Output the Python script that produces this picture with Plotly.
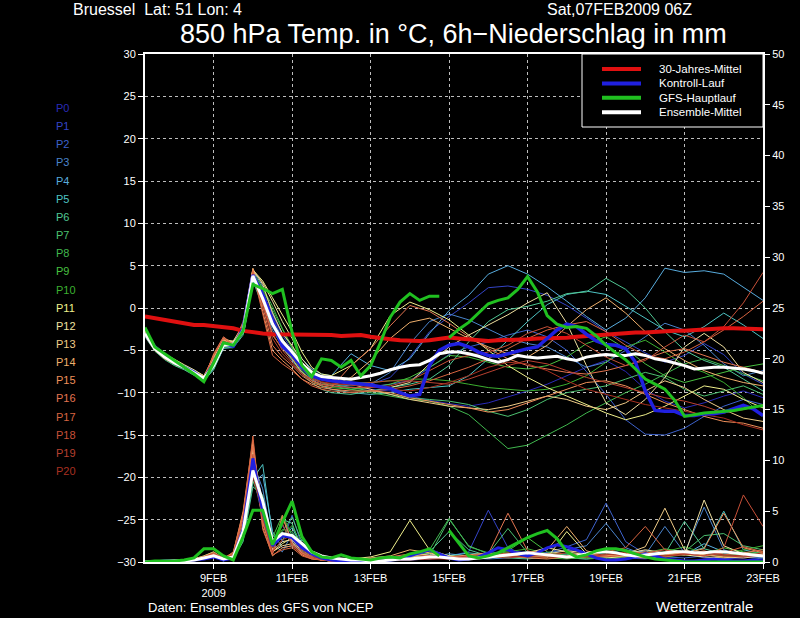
import pandas as pd
import plotly.graph_objects as go

# time axes (6h for the main lines, 6h/12h for the members)
t6 = pd.date_range("2009-02-07 06:00", "2009-02-23 00:00", freq="6h")
t_gfs_hi = pd.date_range("2009-02-07 06:00", "2009-02-14 18:00", freq="6h")
t_gfs_lo = pd.date_range("2009-02-15 00:00", "2009-02-23 00:00", freq="6h")
t_ens = pd.date_range("2009-02-07 06:00", "2009-02-12 00:00", freq="6h").append(
    pd.date_range("2009-02-12 12:00", "2009-02-23 00:00", freq="12h"))

tick_dates = ["2009-02-09", "2009-02-11", "2009-02-13", "2009-02-15",
              "2009-02-17", "2009-02-19", "2009-02-21", "2009-02-23"]
tick_text = ["9FEB<br>2009", "11FEB", "13FEB", "15FEB", "17FEB", "19FEB", "21FEB", "23FEB"]

# 850 hPa temperature, degC
clim_t = [-1.0, -1.2, -1.5, -1.7, -1.9, -2.0, -2.0, -2.1, -2.2, -2.4, -2.7, -2.9,
          -3.0, -3.1, -3.1, -3.1, -3.1, -3.2, -3.2, -3.2, -3.3, -3.2, -3.2, -3.4,
          -3.6, -3.7, -3.8, -3.9, -3.9, -3.8, -3.7, -3.5, -3.6, -3.7, -3.9, -3.9,
          -3.8, -3.8, -3.8, -3.7, -3.6, -3.6, -3.5, -3.5, -3.4, -3.3, -3.2, -3.2,
          -3.1, -3.0, -2.9, -2.9, -2.8, -2.8, -2.7, -2.7, -2.6, -2.6, -2.5, -2.4,
          -2.4, -2.4, -2.5, -2.5]
ctrl_t = [-3.0, -4.6, -5.6, -6.4, -7.0, -7.6, -8.4, -6.6, -4.2, -4.5, -2.5, 3.9,
          1.5, -1.5, -4.5, -5.5, -7.0, -8.0, -8.4, -8.6, -8.7, -8.8, -9.0, -9.1,
          -9.3, -9.5, -10.0, -10.4, -10.2, -6.8, -5.0, -4.4, -4.2, -4.6, -5.2, -5.6,
          -5.7, -5.4, -5.0, -4.8, -4.6, -3.6, -2.6, -1.9, -2.2, -3.1, -3.9, -4.3,
          -4.4, -4.8, -6.4, -9.8, -12.1, -12.2, -12.2, -12.7, -12.7, -12.5, -12.5, -12.3,
          -11.9, -11.5, -11.9, -12.7]
mean_t = [-3.0, -4.8, -5.8, -6.5, -7.0, -7.6, -8.3, -6.8, -4.4, -4.3, -2.7, 3.8,
          1.1, -1.9, -3.9, -5.2, -6.6, -7.6, -8.1, -8.2, -8.3, -8.4, -8.2, -8.0,
          -7.7, -7.3, -7.0, -6.8, -6.7, -6.2, -5.4, -5.2, -5.2, -5.4, -5.7, -6.1,
          -6.4, -6.1, -5.6, -5.8, -5.9, -5.8, -5.7, -6.0, -6.2, -5.8, -5.6, -5.5,
          -5.6, -5.6, -5.4, -5.6, -6.0, -6.2, -6.5, -6.8, -7.2, -7.1, -7.0, -7.0,
          -7.1, -7.2, -7.4, -7.7]
gfs_hi_t = [-2.3, -4.6, -5.4, -6.2, -6.9, -7.8, -8.7, -6.5, -4.1, -4.4, -2.7, 2.8,
            2.3, 1.7, 2.2, -2.9, -6.8, -8.1, -6.0, -6.2, -7.0, -6.2, -8.0, -6.8,
            -4.1, -1.1, 0.7, 1.7, 0.9, 1.4, 1.4]
gfs_lo_t = [-3.5, -2.5, -1.7, -0.6, 0.5, 0.9, 1.2, 2.2, 3.7, 1.9, -0.9, -1.9, -2.3,
            -2.2, -2.4, -3.3, -4.4, -5.3, -6.1, -7.2, -8.4, -9.0, -9.6, -10.9, -12.8,
            -12.6, -12.4, -12.3, -12.2, -12.1, -11.9, -11.7, -11.5]

# 6h precipitation, mm
ctrl_rr = [0.0, 0.0, 0.1, 0.1, 0.1, 0.2, 0.3, 0.5, 0.2, 0.4, 3.2, 10.2,
           5.0, 1.6, 2.6, 2.4, 1.4, 0.8, 0.4, 0.2, 0.1, 0.1, 0.0, 0.0,
           0.1, 0.2, 0.4, 0.6, 0.9, 1.2, 0.8, 0.4, 0.2, 0.3, 0.5, 0.9,
           1.4, 1.2, 0.8, 0.6, 0.9, 1.4, 1.7, 1.5, 1.2, 0.8, 0.4, 0.2,
           0.2, 0.3, 0.5, 0.8, 0.6, 0.3, 0.2, 0.1, 0.1, 0.2, 0.3, 0.2,
           0.1, 0.1, 0.2, 0.1]
mean_rr = [0.0, 0.05, 0.1, 0.1, 0.1, 0.2, 0.4, 0.6, 0.3, 0.5, 3.0, 9.0,
           6.0, 2.0, 2.8, 2.6, 1.8, 1.0, 0.6, 0.4, 0.3, 0.2, 0.2, 0.1,
           0.1, 0.2, 0.3, 0.3, 0.4, 0.5, 0.5, 0.4, 0.3, 0.3, 0.4, 0.5,
           0.6, 0.7, 0.8, 0.9, 0.8, 0.7, 0.6, 0.5, 0.6, 0.8, 1.0, 1.0,
           0.9, 0.7, 0.6, 0.7, 0.8, 0.9, 1.0, 1.0, 0.9, 0.9, 1.0, 1.0,
           0.9, 0.8, 0.7, 0.6]
gfs_hi_rr = [0.0, 0.1, 0.1, 0.1, 0.2, 0.4, 1.3, 1.3, 0.6, 0.2, 2.5, 5.1,
             5.1, 1.7, 3.9, 6.0, 2.5, 1.0, 0.5, 0.4, 0.7, 0.4, 0.3, 0.2,
             0.4, 0.5, 0.4, 0.8, 1.0, 1.3, 0.6]
gfs_lo_rr = [3.1, 1.8, 0.6, 0.4, 0.6, 0.9, 1.4, 1.9, 2.4, 2.8, 3.1, 2.3, 1.0,
             0.5, 0.7, 1.1, 1.3, 1.3, 1.1, 0.8, 0.5, 0.3, 0.2, 0.1, 0.0,
             0.0, 0.0, 0.0, 0.0, 0.0, 0.0, 0.0, 0.0]

# ensemble members P0..P20: temperature
p0_t = [-3.2, -4.9, -5.9, -6.6, -7.1, -7.7, -8.4, -7.0, -4.6, -4.5, -2.9, 3.6, 1.5, -1.0, -3.6, -5.6, -7.4, -8.6, -9.0, -9.2,
        -9.4, -9.6, -9.8, -10.4, -10.9, -11.3, -11.6, -11.2, -10.5, -9.8, -9.0, -8.0, -7.0, -6.2, -7.5, -9.6, -11.0, -11.8, -11.2, -10.4, -9.8, -10.6]
p1_t = [-3.1, -4.7, -5.7, -6.4, -6.9, -7.5, -8.2, -6.9, -4.3, -4.2, -2.5, 4.2, 2.0, -0.8, -3.2, -5.0, -6.8, -7.8, -8.4, -8.6,
        -8.8, -9.0, -8.2, -5.8, -2.8, -1.0, 0.6, 2.4, 2.6, 2.2, 1.5, 0.3, -1.2, -2.8, -4.0, -5.3, -6.4, -5.6, -4.2, -5.5, -7.8, -9.0]
p2_t = [-2.9, -4.6, -5.6, -6.3, -6.8, -7.4, -8.1, -6.6, -4.2, -4.4, -2.6, 4.0, 1.8, -1.2, -3.8, -5.4, -7.0, -8.0, -8.5, -8.7,
        -8.9, -9.3, -9.0, -8.6, -7.0, -5.5, -4.6, -4.0, -3.2, -2.6, -3.4, -5.0, -7.5, -10.2, -13.2, -14.9, -15.0, -14.2, -12.8, -11.6, -10.8, -11.4]
p3_t = [-3.3, -5.0, -6.0, -6.7, -7.2, -7.8, -8.5, -7.2, -4.8, -4.6, -3.0, 3.4, 0.6, -2.6, -4.6, -6.2, -7.6, -8.4, -8.8, -9.0,
        -9.2, -9.0, -7.6, -4.2, -1.6, -0.7, -1.4, -2.5, -3.6, -4.2, -4.6, -5.8, -7.0, -6.4, -5.0, -3.4, -1.8, -2.6, -4.4, -6.6, -8.0, -7.4]
p4_t = [-2.8, -4.5, -5.5, -6.2, -6.8, -7.4, -8.0, -6.5, -4.0, -4.1, -2.4, 4.4, 2.6, -0.5, -3.0, -4.6, -6.0, -7.2, -7.8, -8.0,
        -5.4, -6.8, -7.4, -6.0, -3.0, -0.3, 1.5, 4.0, 5.0, 4.0, 2.5, 0.8, -1.0, -2.6, -1.2, 1.2, 4.7, 4.2, 4.4, 4.0, 2.4, 0.9]
p5_t = [-3.0, -4.8, -5.9, -6.6, -7.1, -7.7, -8.4, -7.1, -4.5, -4.4, -2.8, 3.7, 1.4, -1.6, -4.0, -5.8, -7.2, -8.4, -9.2, -9.6,
        -10.0, -10.2, -10.0, -9.6, -9.4, -9.2, -8.0, -6.0, -3.8, -1.6, 0.4, 1.6, 2.0, 1.6, 0.2, -1.2, -2.6, -3.4, -2.2, -0.6, -2.0, -3.6]
p6_t = [-3.4, -5.1, -6.1, -6.8, -7.3, -7.9, -8.6, -7.3, -4.7, -4.7, -3.2, 3.2, 0.2, -2.2, -4.4, -6.0, -7.8, -8.8, -9.6, -10.0,
        -10.2, -9.8, -9.4, -9.0, -8.4, -6.8, -4.0, -1.6, -0.2, 0.2, 0.8, 1.7, 1.9, 3.5, 2.2, 0.0, -2.8, -5.0, -6.2, -7.0, -8.4, -9.8]
p7_t = [-3.1, -4.9, -5.8, -6.5, -7.0, -7.6, -8.3, -6.9, -4.5, -4.2, -2.6, 3.9, 1.6, -1.4, -3.6, -5.4, -7.0, -8.2, -8.8, -9.0,
        -9.4, -9.8, -10.2, -10.6, -10.8, -11.0, -11.4, -12.2, -12.8, -12.0, -10.8, -10.0, -9.6, -9.2, -8.4, -7.6, -8.2, -9.6, -10.4, -9.8, -9.2, -10.2]
p8_t = [-3.0, -4.7, -5.7, -6.4, -7.0, -7.5, -8.2, -6.7, -4.3, -4.2, -2.5, 4.1, 2.4, 0.2, -2.4, -4.6, -6.8, -8.0, -8.8, -9.2,
        -9.6, -10.0, -10.4, -10.8, -11.0, -11.6, -12.6, -14.6, -16.6, -16.2, -15.0, -13.8, -12.4, -11.2, -10.0, -9.0, -7.8, -6.6, -6.0, -6.8, -7.8, -8.6]
p9_t = [-3.2, -5.0, -6.0, -6.7, -7.2, -7.8, -8.5, -7.0, -4.6, -4.5, -2.9, 3.5, 1.0, -1.8, -3.8, -5.8, -7.4, -8.6, -9.2, -9.4,
        -9.6, -9.4, -9.0, -8.2, -7.0, -5.6, -5.8, -6.4, -7.0, -7.2, -6.8, -5.8, -4.2, -3.4, -4.8, -6.6, -8.0, -8.8, -8.2, -7.6, -7.0, -6.6]
p10_t = [-2.9, -4.6, -5.6, -6.3, -6.9, -7.5, -8.2, -6.6, -4.2, -4.2, -2.5, 4.3, 2.2, -0.2, -2.6, -4.8, -6.6, -7.8, -8.4, -8.6,
         -8.8, -8.8, -8.6, -8.4, -8.4, -8.6, -9.0, -9.4, -9.6, -9.8, -9.6, -9.0, -8.0, -6.4, -4.6, -3.8, -5.2, -6.8, -7.6, -8.8, -10.6, -12.8]
p11_t = [-2.7, -4.4, -5.4, -6.1, -6.7, -7.3, -8.0, -6.2, -3.8, -3.9, -2.0, 4.5, 3.2, 1.2, -0.8, -2.8, -5.2, -7.0, -7.8, -8.0,
         -6.8, -4.8, -0.9, 0.7, -0.2, -1.4, -3.2, -5.0, -6.8, -8.2, -9.4, -10.4, -11.4, -12.4, -13.2, -12.6, -11.6, -10.4, -9.2, -9.6, -10.8, -11.8]
p12_t = [-2.8, -4.5, -5.5, -6.2, -6.8, -7.4, -8.1, -6.3, -3.9, -4.0, -2.2, 4.4, 3.0, 0.8, -1.6, -3.6, -6.0, -7.4, -8.2, -8.4,
         -8.8, -9.2, -9.4, -8.8, -6.6, -4.6, -3.2, -2.0, -0.8, 0.6, 1.8, -1.8, -6.8, -11.2, -12.6, -10.8, -8.2, -4.6, -3.0, -4.6, -7.6, -8.8]
p13_t = [-3.0, -4.7, -5.6, -6.3, -6.9, -7.5, -8.1, -6.0, -3.6, -4.0, -2.2, 4.6, 2.8, -0.6, -3.0, -4.4, -6.4, -7.6, -8.2, -8.6,
         -9.0, -9.6, -10.2, -10.8, -11.2, -11.6, -11.8, -12.0, -11.6, -11.0, -10.4, -10.8, -11.6, -12.0, -11.2, -9.8, -8.6, -9.4, -10.8, -12.0, -13.0, -13.4]
p14_t = [-3.1, -4.8, -5.7, -6.4, -6.9, -7.5, -8.0, -5.8, -3.8, -4.2, -2.0, 4.7, 0.6, -3.2, -4.8, -6.0, -7.6, -8.6, -9.0, -9.2,
         -8.2, -6.2, -3.6, -1.7, -1.2, -2.4, -3.6, -4.6, -5.4, -5.8, -4.4, -2.2, -0.2, 1.2, -0.6, -2.8, -4.8, -6.2, -7.4, -8.2, -8.8, -9.2]
p15_t = [-3.2, -4.9, -5.8, -6.5, -7.0, -7.6, -8.2, -5.6, -3.6, -4.4, -1.8, 4.6, -0.4, -5.0, -6.2, -7.2, -8.4, -9.0, -9.4, -9.6,
         -9.8, -9.8, -10.0, -10.6, -11.0, -11.4, -11.8, -12.3, -12.0, -11.2, -10.4, -9.6, -8.8, -8.6, -9.2, -10.2, -11.2, -12.0, -12.8, -13.4, -13.6, -14.2]
p16_t = [-3.3, -5.0, -6.0, -6.6, -7.1, -7.7, -8.4, -5.4, -3.4, -4.3, -1.6, 4.4, 0.2, -4.4, -5.8, -6.8, -8.0, -8.8, -9.2, -9.4,
         -6.8, -4.8, -2.1, 0.3, -0.4, -1.8, -3.4, -4.8, -6.0, -6.8, -7.2, -7.6, -7.8, -7.4, -6.8, -6.0, -5.2, -4.8, -5.6, -6.4, -7.0, -7.6]
p17_t = [-3.0, -4.7, -5.7, -6.4, -7.0, -7.6, -8.3, -5.6, -3.5, -4.5, -2.4, 4.2, -0.8, -5.6, -6.6, -7.4, -8.4, -9.2, -9.6, -9.8,
         -10.0, -9.8, -9.6, -9.2, -8.6, -7.8, -7.0, -6.0, -4.8, -3.6, -2.6, -2.0, -1.6, -2.8, -4.4, -5.6, -6.0, -5.2, -4.0, -2.6, -1.0, 0.8]
p18_t = [-2.9, -4.6, -5.6, -6.3, -6.9, -7.5, -8.2, -6.4, -4.0, -4.6, -2.6, 4.0, 0.8, -3.0, -5.0, -6.4, -7.8, -8.6, -9.0, -9.2,
         -9.4, -9.4, -9.2, -8.6, -7.4, -6.2, -5.6, -5.2, -4.4, -3.0, -2.2, -3.0, -4.4, -5.8, -6.8, -6.2, -4.6, -3.2, -4.0, -2.2, 0.6, 4.2]
p19_t = [-3.1, -4.8, -5.8, -6.5, -7.0, -7.6, -8.3, -6.2, -3.9, -4.4, -2.8, 3.9, 0.4, -3.6, -5.4, -6.6, -7.8, -8.4, -8.8, -9.0,
         -9.0, -8.8, -8.6, -8.6, -8.8, -9.0, -8.4, -7.6, -6.8, -6.2, -6.6, -7.4, -8.2, -8.8, -9.4, -10.0, -10.6, -11.0, -11.6, -12.4, -12.0, -11.4]
p20_t = [-3.2, -4.9, -5.9, -6.6, -7.1, -7.7, -8.4, -6.5, -4.1, -4.3, -2.7, 3.7, 1.2, -2.0, -4.2, -5.8, -7.2, -8.2, -8.7, -8.9,
         -9.1, -9.3, -9.6, -9.8, -9.4, -8.8, -8.0, -7.0, -6.4, -6.6, -7.4, -8.6, -9.6, -10.2, -10.8, -11.4, -11.8, -12.2, -12.6, -13.0, -13.8, -14.4]

# ensemble members P0..P20: precipitation
p0_rr = [0.0, 0.0, 0.1, 0.1, 0.1, 0.2, 0.3, 0.5, 0.2, 0.3, 2.8, 9.5, 5.0, 1.5, 2.4, 3.0, 1.2, 0.6, 0.3, 0.2,
         0.1, 0.1, 0.2, 0.3, 0.5, 0.3, 0.4, 0.8, 1.2, 0.9, 0.6, 0.4, 0.5, 0.7, 0.4, 0.3, 0.6, 0.9, 0.5, 0.3, 0.4, 0.6]
p1_rr = [0.0, 0.0, 0.1, 0.1, 0.2, 0.2, 0.4, 0.7, 0.3, 0.4, 3.0, 10.5, 6.0, 2.0, 3.6, 2.0, 1.0, 0.5, 0.3, 0.2,
         0.1, 0.0, 0.1, 0.2, 0.3, 0.6, 1.0, 5.1, 1.4, 0.6, 0.8, 1.2, 0.9, 0.5, 0.3, 0.4, 0.6, 0.8, 0.4, 0.3, 0.5, 0.7]
p2_rr = [0.0, 0.1, 0.1, 0.1, 0.1, 0.3, 0.5, 0.6, 0.2, 0.5, 2.4, 8.6, 4.4, 1.2, 2.0, 4.6, 1.6, 0.7, 0.4, 0.2,
         0.1, 0.1, 0.2, 0.2, 0.3, 0.4, 0.5, 0.6, 0.8, 1.0, 0.9, 1.5, 2.2, 5.8, 2.0, 0.8, 0.5, 0.4, 0.6, 0.8, 0.5, 0.3]
p3_rr = [0.0, 0.0, 0.0, 0.1, 0.1, 0.2, 0.4, 0.8, 0.3, 0.3, 3.4, 9.8, 7.2, 1.8, 1.0, 2.8, 1.8, 0.8, 0.4, 0.3,
         0.1, 0.2, 0.3, 0.6, 0.8, 0.5, 0.4, 0.3, 0.4, 0.6, 0.9, 1.2, 1.6, 3.8, 1.4, 0.7, 3.5, 0.9, 5.4, 1.2, 0.6, 0.4]
p4_rr = [0.0, 0.0, 0.1, 0.1, 0.2, 0.2, 0.3, 0.5, 0.1, 0.6, 2.2, 7.8, 8.6, 3.0, 1.4, 1.6, 2.2, 1.0, 0.5, 0.2,
         0.2, 0.1, 0.2, 0.3, 0.5, 0.8, 0.6, 0.5, 0.7, 0.9, 0.6, 0.4, 0.3, 0.5, 0.8, 1.1, 0.9, 0.7, 1.8, 1.0, 0.8, 0.5]
p5_rr = [0.0, 0.1, 0.1, 0.1, 0.1, 0.2, 0.4, 0.6, 0.2, 0.4, 2.6, 8.2, 9.6, 2.6, 2.2, 3.4, 1.4, 0.6, 0.3, 0.2,
         0.1, 0.2, 0.2, 0.4, 0.3, 0.6, 0.9, 0.7, 0.5, 0.4, 0.6, 0.8, 0.7, 0.9, 1.2, 0.8, 0.6, 0.9, 1.4, 5.0, 1.2, 0.8]
p6_rr = [0.0, 0.0, 0.1, 0.1, 0.1, 0.3, 0.5, 0.9, 0.3, 0.3, 2.0, 7.4, 6.6, 1.6, 4.2, 3.8, 1.2, 0.5, 0.2, 0.1,
         0.2, 0.3, 0.4, 0.6, 1.0, 3.0, 1.2, 0.6, 0.4, 0.3, 0.5, 0.7, 0.9, 1.1, 0.8, 0.6, 0.8, 4.0, 1.3, 0.8, 0.6, 0.9]
p7_rr = [0.0, 0.0, 0.1, 0.2, 0.2, 0.3, 0.6, 1.0, 0.4, 0.4, 2.8, 8.0, 5.4, 2.2, 3.0, 4.4, 2.0, 0.9, 0.4, 0.2,
         0.1, 0.2, 0.3, 0.4, 0.6, 4.2, 1.6, 0.8, 3.3, 0.9, 0.5, 0.4, 0.3, 0.4, 0.6, 0.8, 0.7, 1.0, 2.6, 2.8, 1.6, 1.2]
p8_rr = [0.0, 0.1, 0.1, 0.1, 0.2, 0.2, 0.4, 0.7, 0.2, 0.5, 3.2, 9.0, 4.8, 1.4, 2.6, 3.6, 1.6, 0.7, 0.3, 0.2,
         0.2, 0.2, 0.3, 0.5, 1.2, 4.3, 1.5, 0.9, 0.7, 0.6, 0.4, 0.3, 0.5, 0.8, 0.6, 0.4, 0.5, 0.7, 0.9, 0.6, 0.8, 1.0]
p9_rr = [0.0, 0.0, 0.1, 0.1, 0.1, 0.2, 0.3, 0.6, 0.2, 0.4, 2.4, 8.8, 5.6, 2.4, 4.6, 2.6, 1.0, 0.5, 0.3, 0.1,
         0.1, 0.1, 0.2, 0.3, 0.5, 0.4, 0.6, 0.8, 1.1, 2.4, 1.0, 0.6, 0.5, 0.4, 0.6, 0.9, 1.3, 1.0, 0.8, 1.4, 1.0, 0.7]
p10_rr = [0.0, 0.0, 0.1, 0.1, 0.2, 0.3, 0.5, 0.8, 0.3, 0.3, 2.6, 9.2, 6.2, 1.8, 3.2, 3.0, 1.4, 0.6, 0.3, 0.2,
          0.1, 0.2, 0.3, 0.5, 0.9, 0.6, 0.5, 0.7, 1.0, 1.3, 0.8, 0.5, 0.4, 0.3, 0.5, 0.7, 1.0, 1.5, 0.9, 0.6, 1.2, 1.6]
p11_rr = [0.0, 0.1, 0.1, 0.1, 0.1, 0.2, 0.4, 0.6, 0.2, 0.6, 3.6, 10.0, 4.6, 1.0, 1.8, 2.4, 1.2, 0.6, 0.3, 0.2,
          0.3, 0.5, 1.0, 4.1, 1.2, 0.6, 0.4, 0.5, 0.7, 0.6, 0.4, 3.0, 0.8, 0.5, 0.3, 0.6, 0.9, 0.7, 0.5, 0.4, 0.6, 0.8]
p12_rr = [0.0, 0.0, 0.1, 0.1, 0.2, 0.2, 0.4, 0.7, 0.3, 0.5, 3.8, 10.8, 5.2, 1.2, 2.0, 2.2, 1.0, 0.5, 0.2, 0.1,
          0.2, 0.3, 0.4, 0.6, 0.8, 0.6, 0.5, 0.4, 0.6, 0.9, 1.4, 1.0, 0.7, 0.5, 0.8, 1.2, 0.9, 0.7, 6.1, 1.6, 0.8, 0.6]
p13_rr = [0.0, 0.0, 0.1, 0.1, 0.1, 0.3, 0.5, 0.8, 0.2, 0.7, 4.2, 11.2, 5.6, 1.0, 1.6, 1.8, 0.9, 0.4, 0.2, 0.1,
          0.1, 0.2, 0.3, 0.5, 0.6, 0.4, 0.3, 0.5, 0.7, 0.6, 0.8, 1.1, 0.9, 0.6, 0.8, 1.5, 5.3, 1.2, 0.7, 0.5, 0.4, 0.6]
p14_rr = [0.0, 0.1, 0.1, 0.1, 0.2, 0.3, 0.6, 1.0, 0.3, 0.8, 4.6, 11.6, 4.0, 0.8, 4.4, 2.0, 0.8, 0.4, 0.2, 0.1,
          0.2, 0.4, 0.6, 1.2, 0.9, 0.5, 0.4, 0.6, 0.8, 0.9, 1.2, 3.5, 1.1, 0.6, 0.5, 0.4, 0.6, 0.9, 0.7, 0.5, 0.6, 0.8]
p15_rr = [0.0, 0.0, 0.1, 0.2, 0.2, 0.3, 0.5, 0.9, 0.4, 0.9, 5.0, 12.0, 3.4, 0.6, 1.4, 1.6, 0.7, 0.3, 0.2, 0.1,
          0.1, 0.2, 0.2, 0.3, 0.4, 0.5, 0.7, 0.9, 0.6, 0.4, 0.3, 0.5, 0.7, 0.6, 0.8, 1.0, 0.7, 0.9, 1.3, 4.8, 1.4, 0.9]
p16_rr = [0.0, 0.0, 0.1, 0.1, 0.1, 0.2, 0.4, 0.7, 0.3, 1.0, 4.8, 11.4, 3.8, 0.8, 4.6, 1.8, 0.9, 0.4, 0.2, 0.1,
          0.2, 0.3, 0.5, 0.8, 0.6, 0.4, 0.6, 0.8, 4.8, 1.1, 0.6, 0.4, 0.5, 0.7, 0.9, 0.6, 0.5, 0.8, 1.1, 0.7, 0.9, 1.2]
p17_rr = [0.0, 0.1, 0.1, 0.1, 0.2, 0.2, 0.5, 0.8, 0.3, 0.8, 4.4, 12.4, 3.2, 0.7, 1.2, 1.4, 0.6, 0.3, 0.2, 0.1,
          0.1, 0.2, 0.3, 0.4, 0.6, 0.5, 0.4, 0.6, 0.9, 0.7, 0.5, 0.6, 0.8, 1.0, 1.4, 3.5, 1.2, 0.8, 0.6, 0.9, 1.5, 1.0]
p18_rr = [0.0, 0.0, 0.1, 0.1, 0.2, 0.3, 0.5, 0.9, 0.4, 0.7, 4.0, 10.6, 4.2, 0.9, 3.8, 1.6, 0.8, 0.4, 0.2, 0.1,
          0.1, 0.1, 0.2, 0.3, 0.4, 0.3, 0.5, 0.7, 0.6, 0.5, 0.7, 0.9, 0.6, 0.5, 0.7, 0.9, 1.2, 0.8, 0.6, 1.4, 6.6, 3.5]
p19_rr = [0.0, 0.0, 0.1, 0.1, 0.1, 0.2, 0.4, 0.6, 0.2, 0.6, 3.4, 9.4, 4.4, 1.0, 2.2, 2.6, 1.0, 0.5, 0.3, 0.1,
          0.1, 0.2, 0.2, 0.3, 0.3, 0.4, 0.6, 0.5, 0.4, 0.6, 0.8, 0.6, 0.5, 0.7, 1.0, 0.8, 0.6, 0.7, 0.9, 0.6, 0.5, 0.7]
p20_rr = [0.0, 0.1, 0.1, 0.1, 0.1, 0.2, 0.3, 0.5, 0.2, 0.5, 3.0, 8.4, 4.8, 1.4, 2.8, 2.4, 1.2, 0.6, 0.3, 0.2,
          0.1, 0.1, 0.2, 0.2, 0.3, 0.3, 0.4, 0.5, 0.6, 0.5, 0.4, 0.5, 0.6, 0.8, 0.7, 0.5, 0.6, 0.8, 1.0, 0.7, 0.6, 0.9]

member_names = ["P%d" % i for i in range(21)]
member_colors = ["#2a2ab8", "#3444c8", "#3d62cc", "#4a84cc", "#58acde", "#4ec4c4", "#50c894",
                 "#4cc070", "#40b84e", "#48c040", "#3cb030", "#f0f08c", "#f0e0a0", "#f0cc88",
                 "#f0b06c", "#f0905a", "#e47450", "#d86440", "#c85038", "#b84030", "#a83020"]
member_t = [p0_t, p1_t, p2_t, p3_t, p4_t, p5_t, p6_t, p7_t, p8_t, p9_t, p10_t,
            p11_t, p12_t, p13_t, p14_t, p15_t, p16_t, p17_t, p18_t, p19_t, p20_t]
member_rr = [p0_rr, p1_rr, p2_rr, p3_rr, p4_rr, p5_rr, p6_rr, p7_rr, p8_rr, p9_rr, p10_rr,
             p11_rr, p12_rr, p13_rr, p14_rr, p15_rr, p16_rr, p17_rr, p18_rr, p19_rr, p20_rr]

legend_names = ["30-Jahres-Mittel", "Kontroll-Lauf", "GFS-Hauptlauf", "Ensemble-Mittel"]
RED, BLUE, GREEN, WHITE = "#e01010", "#2020e0", "#20c020", "#ffffff"
FONT = "Liberation Sans"

fig = go.Figure()

# members: temperature (left axis) and precipitation (right axis)
for t, rr, col in zip(member_t, member_rr, member_colors):
    fig.add_trace(go.Scatter(x=t_ens, y=t, mode="lines", line=dict(color=col, width=1)))
    fig.add_trace(go.Scatter(x=t_ens, y=rr, mode="lines", yaxis="y2",
                             line=dict(color=col, width=1)))

fig.add_trace(go.Scatter(x=t6, y=clim_t, mode="lines", line=dict(color=RED, width=4)))
fig.add_trace(go.Scatter(x=t6, y=ctrl_t, mode="lines", line=dict(color=BLUE, width=3.5)))
fig.add_trace(go.Scatter(x=t6, y=ctrl_rr, mode="lines", yaxis="y2",
                         line=dict(color=BLUE, width=3)))
fig.add_trace(go.Scatter(x=t6, y=mean_t, mode="lines", line=dict(color=WHITE, width=3)))
fig.add_trace(go.Scatter(x=t6, y=mean_rr, mode="lines", yaxis="y2",
                         line=dict(color=WHITE, width=3)))
for tt, yy in [(t_gfs_hi, gfs_hi_t), (t_gfs_lo, gfs_lo_t)]:
    fig.add_trace(go.Scatter(x=tt, y=yy, mode="lines", line=dict(color=GREEN, width=3)))
for tt, yy in [(t_gfs_hi, gfs_hi_rr), (t_gfs_lo, gfs_lo_rr)]:
    fig.add_trace(go.Scatter(x=tt, y=yy, mode="lines", yaxis="y2",
                             line=dict(color=GREEN, width=3)))

# pixel -> paper helpers (plot area spans x 145..763, y 54..562)
def px(x):
    return (x - 145) / 618.0

def py(y):
    return (562 - y) / 508.0

shapes = [dict(type="rect", xref="paper", yref="paper", x0=px(582), x1=1.0, y0=py(127), y1=1.0,
               fillcolor="black", line=dict(color="white", width=1), layer="above")]
annotations = []
for i, (name, col) in enumerate(zip(legend_names, [RED, BLUE, GREEN, WHITE])):
    yy = py(69 + 14.4 * i)
    shapes.append(dict(type="line", xref="paper", yref="paper", x0=px(602), x1=px(641),
                       y0=yy, y1=yy, line=dict(color=col, width=4), layer="above"))
    annotations.append(dict(text=name, xref="paper", yref="paper", x=px(657), y=yy,
                            xanchor="left", yanchor="middle", showarrow=False,
                            font=dict(family=FONT, size=11.5, color="white")))

for i, (name, col) in enumerate(zip(member_names, member_colors)):
    annotations.append(dict(text=name, xref="paper", yref="paper", x=px(54), y=py(108 + 18.15 * i),
                            xanchor="left", yanchor="middle", showarrow=False,
                            font=dict(family=FONT, size=11, color=col)))

annotations += [
    dict(text="Bruessel  Lat: 51 Lon: 4", xref="paper", yref="paper", x=px(71), y=py(10),
         xanchor="left", yanchor="middle", showarrow=False,
         font=dict(family=FONT, size=16, color="white")),
    dict(text="Sat,07FEB2009 06Z", xref="paper", yref="paper", x=px(545), y=py(10),
         xanchor="left", yanchor="middle", showarrow=False,
         font=dict(family=FONT, size=16, color="white")),
    dict(text="850 hPa Temp. in °C, 6h\u2212Niederschlag in mm", xref="paper", yref="paper",
         x=px(453), y=py(34), xanchor="center", yanchor="middle", showarrow=False,
         font=dict(family=FONT, size=27, color="white")),
    dict(text="Daten: Ensembles des GFS von NCEP", xref="paper", yref="paper", x=px(146), y=py(607),
         xanchor="left", yanchor="middle", showarrow=False,
         font=dict(family=FONT, size=13, color="white")),
    dict(text="Wetterzentrale", xref="paper", yref="paper", x=px(755), y=py(606),
         xanchor="right", yanchor="middle", showarrow=False,
         font=dict(family=FONT, size=15, color="white")),
]

fig.update_layout(
    width=800, height=618,
    margin=dict(l=145, r=37, t=54, b=56),
    paper_bgcolor="black", plot_bgcolor="black",
    showlegend=False,
    shapes=shapes, annotations=annotations,
    font=dict(family=FONT, size=11, color="white"),
    xaxis=dict(range=["2009-02-07 06:00", "2009-02-23 00:00"], tickvals=tick_dates, ticktext=tick_text,
               showline=True, linecolor="white", linewidth=2, mirror=True,
               ticks="outside", ticklen=5, tickcolor="white",
               showgrid=True, gridcolor="#bdbdbd", gridwidth=1, griddash="dot",
               tickfont=dict(family=FONT, size=11, color="white")),
    yaxis=dict(range=[-30, 30], tick0=-30, dtick=5, zeroline=False,
               showline=True, linecolor="white", linewidth=2, mirror=True,
               ticks="outside", ticklen=5, tickcolor="white",
               showgrid=True, gridcolor="#bdbdbd", gridwidth=1, griddash="dot",
               tickfont=dict(family=FONT, size=11, color="white")),
    yaxis2=dict(range=[0, 50], dtick=5, overlaying="y", side="right", zeroline=False,
                showgrid=False, showline=True, linecolor="white", linewidth=2,
                ticks="outside", ticklen=5, tickcolor="white",
                tickfont=dict(family=FONT, size=11, color="white")),
)

# page body has a default margin; remove it so the 800x618 figure fills the window
fig.write_html("out.html", config={"displayModeBar": False},
               post_script="document.body.style.margin='0';document.body.style.background='black';")
